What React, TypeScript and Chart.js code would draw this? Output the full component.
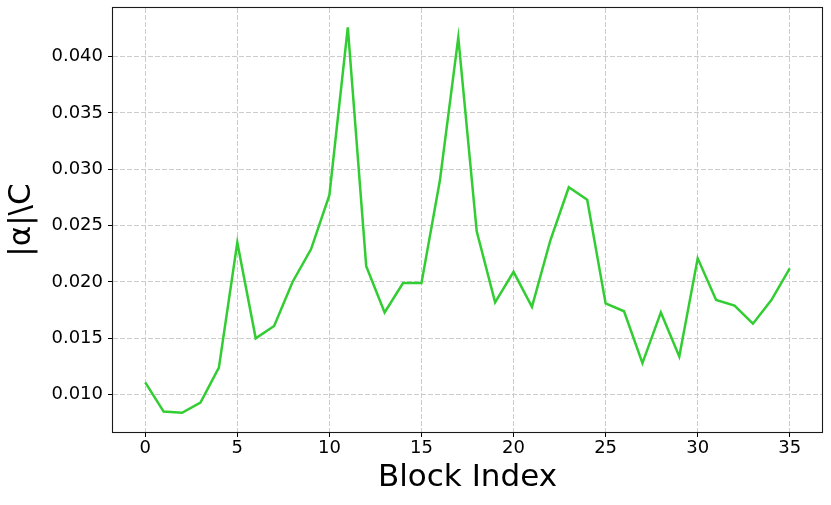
import React, { useEffect, useRef } from "react";
import { Chart, registerables } from "chart.js";

Chart.register(...registerables);

const blockIndex = [
  0, 1, 2, 3, 4, 5, 6, 7, 8, 9, 10, 11, 12, 13, 14, 15, 16, 17,
  18, 19, 20, 21, 22, 23, 24, 25, 26, 27, 28, 29, 30, 31, 32, 33, 34, 35,
];
const alphaValues = [
  0.0111, 0.0085, 0.0084, 0.0093, 0.0124, 0.0235, 0.0150, 0.0161, 0.0200, 0.0229,
  0.0277, 0.0426, 0.0214, 0.0173, 0.0199, 0.0199, 0.0290, 0.0417, 0.0245, 0.0182,
  0.0209, 0.0178, 0.0237, 0.0284, 0.0273, 0.0181, 0.0174, 0.0128, 0.0173, 0.0134,
  0.0221, 0.0184, 0.0179, 0.0163, 0.0184, 0.0212,
];
const xTicks = [0, 5, 10, 15, 20, 25, 30, 35];
const yTicks = [0.01, 0.015, 0.02, 0.025, 0.03, 0.035, 0.04];
const xLabel = "Block Index";
const yLabel = "|α|\\C";

const FONT = "'DejaVu Sans', sans-serif";

const framePlugin = {
  id: "frame",
  afterDraw(chart: any) {
    const { ctx, chartArea } = chart;
    ctx.save();
    ctx.strokeStyle = "#1a1a1a";
    ctx.lineWidth = 1.1;
    ctx.strokeRect(
      chartArea.left - 0.5,
      chartArea.top - 0.5,
      chartArea.right - chartArea.left + 1,
      chartArea.bottom - chartArea.top + 1
    );
    ctx.restore();
  },
};

export default function App() {
  const ref = useRef<HTMLCanvasElement | null>(null);

  useEffect(() => {
    if (!ref.current) return;
    const xMinD = Math.min(...blockIndex);
    const xMaxD = Math.max(...blockIndex);
    const yMinD = Math.min(...alphaValues);
    const yMaxD = Math.max(...alphaValues);
    const xm = (xMaxD - xMinD) * 0.05;
    const ym = (yMaxD - yMinD) * 0.05;

    const chart = new Chart(ref.current, {
      type: "line",
      data: {
        datasets: [
          {
            data: blockIndex.map((x, i) => ({ x, y: alphaValues[i] })),
            borderColor: "#32cd32",
            borderWidth: 2.5,
            pointRadius: 0,
            tension: 0,
            fill: false,
          },
        ],
      },
      options: {
        animation: false,
        responsive: false,
        devicePixelRatio: 1,
        layout: { padding: { left: 0, right: 9, top: 8, bottom: 0 } },
        plugins: {
          legend: { display: false },
          tooltip: { enabled: false },
        },
        scales: {
          x: {
            type: "linear",
            min: xMinD - xm,
            max: xMaxD + xm,
            afterBuildTicks: (scale: any) => {
              scale.ticks = xTicks.map((v) => ({ value: v }));
            },
            afterFit: (scale: any) => {
              scale.height = 73;
              scale.paddingLeft = 0;
              scale.paddingRight = 0;
              scale.paddingTop = 0;
              scale.paddingBottom = 0;
            },
            ticks: {
              color: "#000",
              font: { family: FONT, size: 18, lineHeight: 1.2 },
              padding: 1,
              maxRotation: 0,
              autoSkip: false,
              callback: (v: any) => String(v),
            },
            grid: {
              color: "#cccccc",
              lineWidth: 1,
              tickLength: 5,
              tickColor: "#000",
              tickWidth: 1,
              tickBorderDash: [],
            } as any,
            border: { display: false, dash: [5, 2] },
            title: {
              display: true,
              text: xLabel,
              color: "#000",
              font: { family: FONT, size: 31, lineHeight: 1.2 },
              padding: { top: 0, bottom: 8 },
            },
          },
          y: {
            type: "linear",
            min: yMinD - ym,
            max: yMaxD + ym,
            afterBuildTicks: (scale: any) => {
              scale.ticks = yTicks.map((v) => ({ value: v }));
            },
            afterFit: (scale: any) => {
              scale.width = 113;
              scale.paddingLeft = 0;
              scale.paddingRight = 0;
              scale.paddingTop = 0;
              scale.paddingBottom = 0;
            },
            ticks: {
              color: "#000",
              font: { family: FONT, size: 18, lineHeight: 1.2 },
              padding: 5,
              autoSkip: false,
              callback: (v: any) => Number(v).toFixed(3),
            },
            grid: {
              color: "#cccccc",
              lineWidth: 1,
              tickLength: 5,
              tickColor: "#000",
              tickWidth: 1,
              tickBorderDash: [],
            } as any,
            border: { display: false, dash: [5, 2] },
            title: {
              display: true,
              text: yLabel,
              color: "#000",
              font: { family: FONT, size: 31, lineHeight: 1.2 },
              padding: { top: 3, bottom: 0 },
            },
          },
        },
      },
      plugins: [framePlugin],
    } as any);

    return () => chart.destroy();
  }, []);

  return (
    <div style={{ position: "absolute", left: 0, top: 0, width: 831, height: 505 }}>
      <canvas ref={ref} width={831} height={505} style={{ display: "block" }} />
    </div>
  );
}
